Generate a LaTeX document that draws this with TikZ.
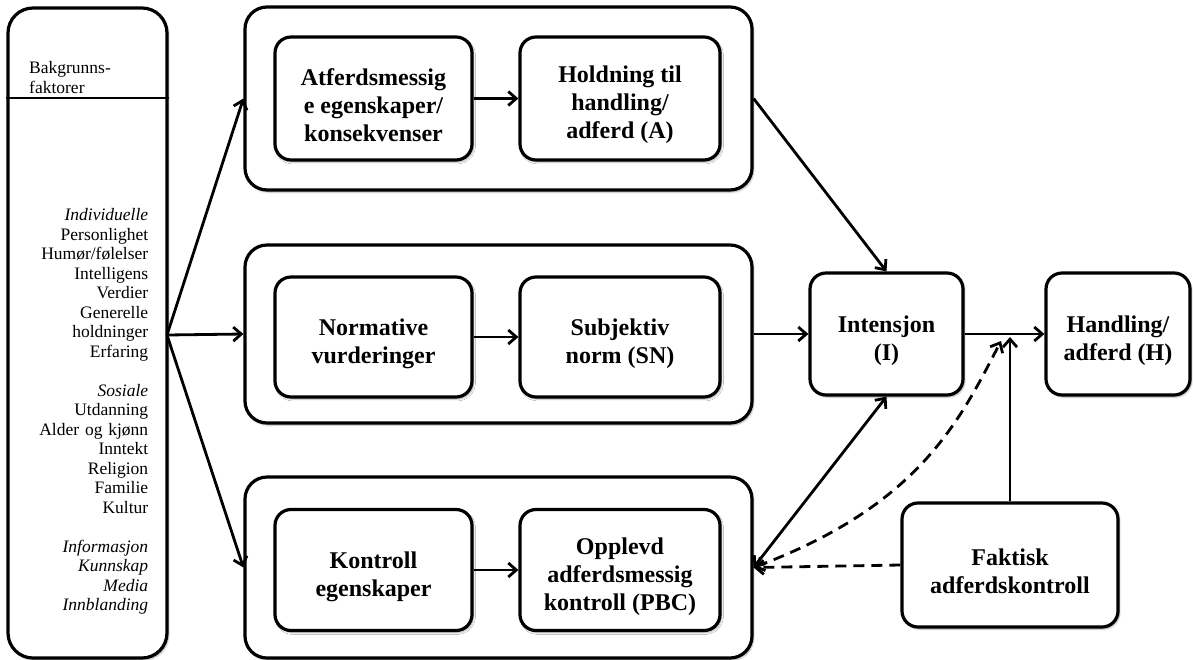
\documentclass[tikz,border=0pt]{standalone}
\usepackage{fontspec}
\setmainfont{Liberation Serif}
\usetikzlibrary{arrows.meta,shadows.blur}
\newcommand\myupstrut{\rule{0pt}{30pt}}
\begin{document}
\begin{tikzpicture}[x=1pt,y=-1pt,
  >={Straight Barb[length=8pt,width=14pt]},
  shad/.style={blur shadow={shadow xshift=1.5pt,shadow yshift=-2pt,shadow blur steps=5,shadow opacity=35}},
  grp/.style={draw,line width=3.2pt,rounded corners=22pt,fill=white,shad,minimum width=507pt,inner sep=0pt},
  inbox/.style={draw,line width=3.2pt,rounded corners=16pt,fill=white,shad,inner sep=0pt,align=center,
    font=\fontsize{24}{28}\selectfont\bfseries},
  conn/.style={line width=2.8pt,->},
  dline/.style={line width=2.8pt,dash pattern=on 11pt off 7pt},
  lefttext/.style={inner sep=0pt,font=\fontsize{17.5}{19.5}\selectfont}
]
\useasboundingbox (0,0) rectangle (1193,659);

% left background box
\node[draw,line width=3.2pt,rounded corners=25pt,fill=white,shad,minimum width=159pt,minimum height=650pt,inner sep=0pt] (bg) at (87.5,333) {};
\draw[line width=2.8pt] (bg.west |- 0,98) -- (bg.east |- 0,98);
\node[lefttext,anchor=north west,align=left] (bgtitle) at (29,61.5) {Bakgrunns-\\faktorer};
\node[lefttext,anchor=north west,text width=119pt,align=right] (bglist) at (29,208.4) {%
\textit{Individuelle}\hspace*{\fill}\\
Personlighet\\
Humør/følelser\\
Intelligens\\
Verdier\\
Generelle\\
holdninger\\
Erfaring\\
\mbox{}\\
\textit{Sosiale}\hspace*{\fill}\\
Utdanning\\
Alder og kjønn\\
Inntekt\\
Religion\\
Familie\\
Kultur\\
\mbox{}\\
\textit{Informasjon}\hspace*{\fill}\\
\textit{Kunnskap}\\
\textit{Media}\\
\textit{Innblanding}};

% group boxes
\node[grp,minimum height=183pt] (grpA) at (498.5,98.5) {};
\node[grp,minimum height=178pt] (grpB) at (498.5,334) {};
\node[grp,minimum height=181pt] (grpC) at (498.5,567.5) {};

% inner boxes
\node[inbox,minimum width=197pt,minimum height=123pt] (A1) at (373.5,98.5) {\myupstrut Atferdsmessig\\e egenskaper/\\konsekvenser};
\node[inbox,minimum width=200pt,minimum height=123pt] (A2) at (620,98.5) {\myupstrut Holdning til\\handling/\\adferd (A)};
\node[inbox,minimum width=197pt,minimum height=120pt] (B1) at (373.5,337) {\myupstrut Normative\\vurderinger};
\node[inbox,minimum width=200pt,minimum height=120pt] (B2) at (620,337) {\myupstrut Subjektiv\\norm (SN)};
\node[inbox,minimum width=197pt,minimum height=121pt] (C1) at (373.5,570) {\myupstrut Kontroll\\egenskaper};
\node[inbox,minimum width=200pt,minimum height=121pt] (C2) at (620,570) {\myupstrut Opplevd\\adferdsmessig\\kontroll (PBC)};

% right boxes
\node[inbox,minimum width=153pt,minimum height=122pt] (I) at (886.5,334) {\myupstrut Intensjon\\(I)};
\node[inbox,minimum width=144pt,minimum height=122pt] (H) at (1118,334) {\myupstrut Handling/\\adferd (H)};
\node[inbox,minimum width=216pt,minimum height=124pt] (F) at (1010,565) {\myupstrut Faktisk\\adferdskontroll};

% connectors
\coordinate (src) at (167,335);
\draw[conn] (src) -- (grpA.west);
\draw[conn] (src) -- (grpB.west);
\draw[conn] (src) -- (grpC.west);
\draw[conn] (A1) -- (A2);
\draw[conn] (B1) -- (B2);
\draw[conn] (C1) -- (C2);
\draw[conn] (grpA.east) -- (I.north);
\draw[conn] (grpB.east) -- (I.west);
\draw[conn] (I.east) -- (H.west);
\coordinate (j) at (1010,337);
\draw[conn] (F.north) -- (j);
\draw[line width=2.8pt,<->] (I.south) -- (grpC.east);
\draw[dline,->] (F.west) -- (grpC.east);
\coordinate (dj) at (1001,341);
\draw[dline,<->] (grpC.east) .. controls (920,505) and (960,420) .. (dj);
\end{tikzpicture}
\end{document}
